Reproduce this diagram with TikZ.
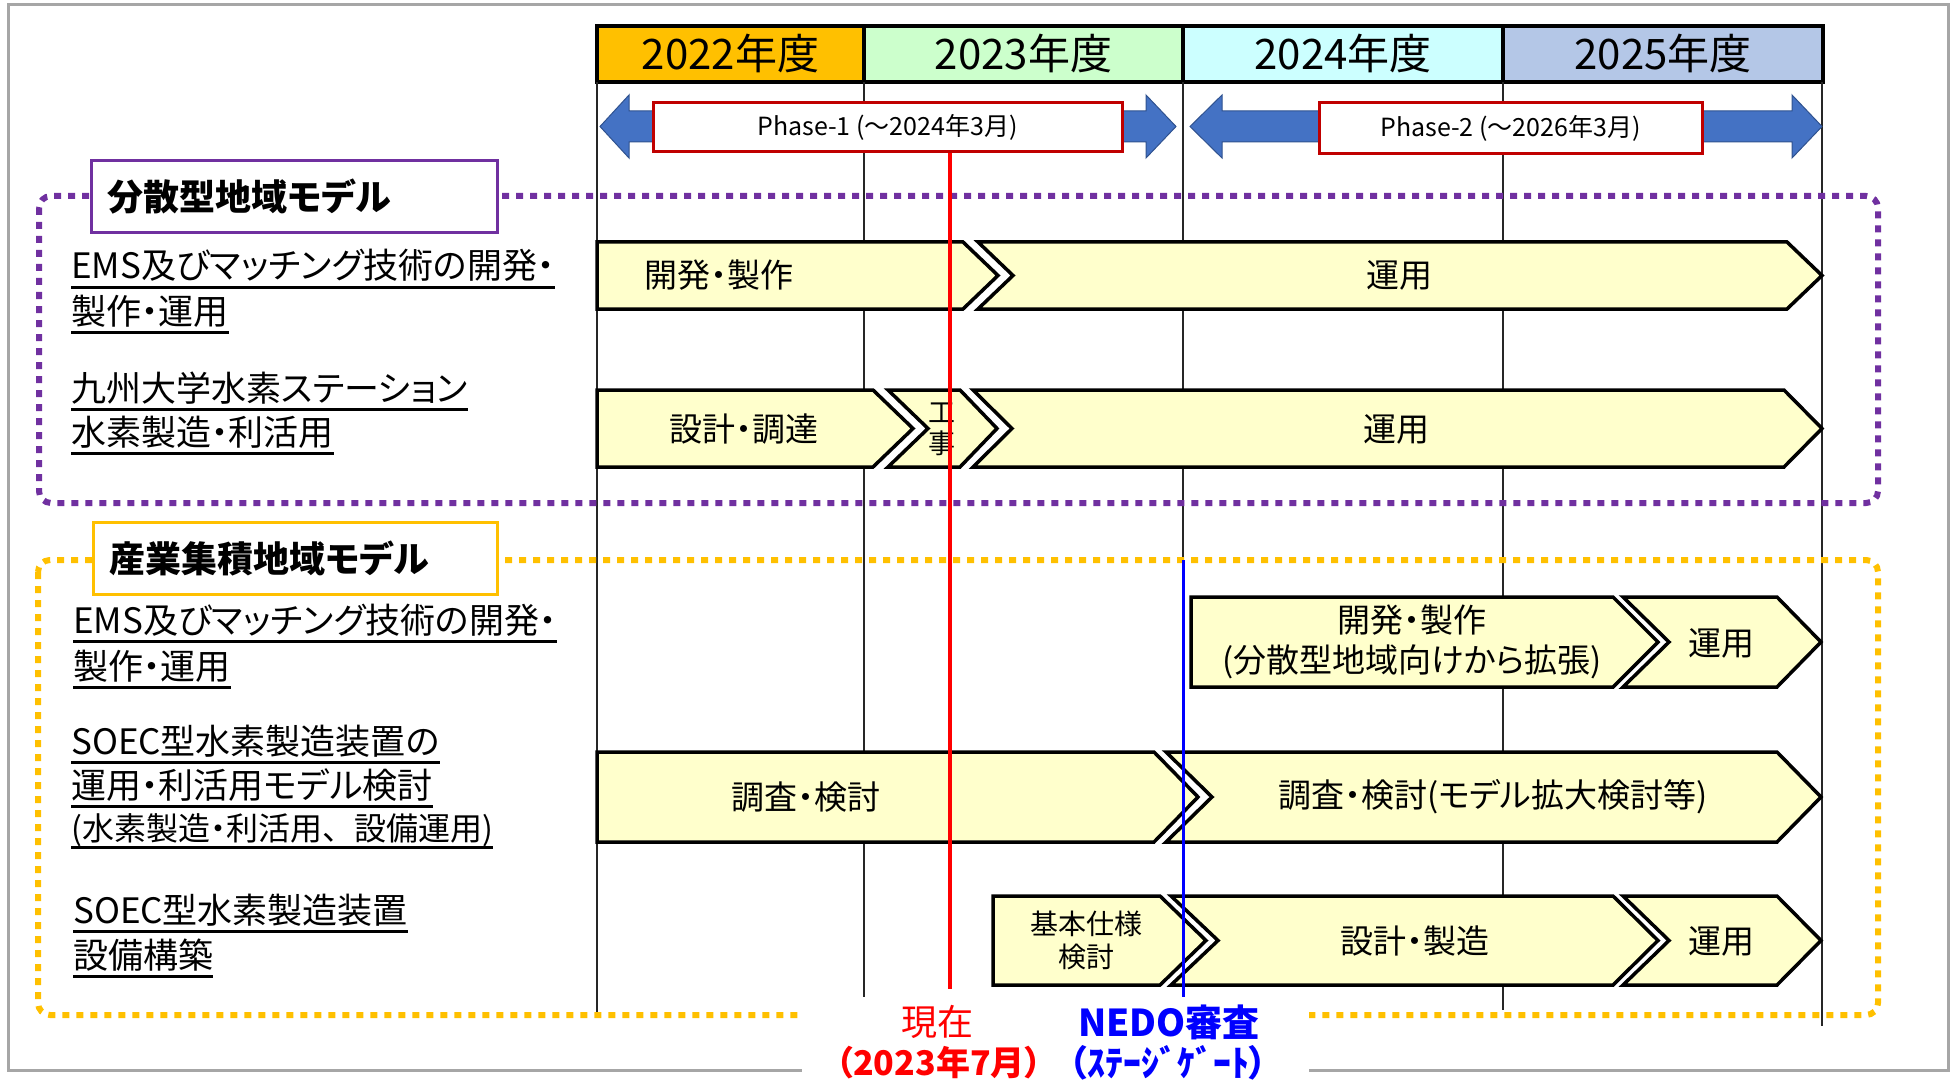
\documentclass[tikz,border=0pt]{standalone}
\usepackage{fontspec}
\newfontfamily\jp[RawFeature=+palt]{Noto Sans CJK JP}
\newfontfamily\jpn{Noto Sans CJK JP}
\newcommand\setfs[1]{\fontsize{#1}{#1}\selectfont}
\definecolor{barfill}{HTML}{FFFFCC}
\definecolor{yA}{HTML}{FFC000}
\definecolor{yB}{HTML}{CCFFCC}
\definecolor{yC}{HTML}{CCFFFF}
\definecolor{yD}{HTML}{B4C7E7}
\definecolor{phaseblue}{HTML}{4472C4}
\definecolor{phaseedge}{HTML}{2F528F}
\definecolor{phasered}{HTML}{C00000}
\definecolor{purp}{HTML}{7030A0}
\definecolor{gold}{HTML}{FFC000}
\definecolor{greyframe}{HTML}{A6A6A6}
\newcommand\flatchev[5]{\draw[barst] (#1,#4) -- (#2,#4) -- (#3,{(#4+#5)/2}) -- (#2,#5) -- (#1,#5) -- cycle;}
\newcommand\notchchev[6]{\draw[barst] (#1,#5) -- (#3,#5) -- (#4,{(#5+#6)/2}) -- (#3,#6) -- (#1,#6) -- (#2,{(#5+#6)/2}) -- cycle;}
\newcommand\dblarrow[4]{\draw[phasearrow] (#1,126.5) -- (#2,95) -- (#2,111) -- (#3,111) -- (#3,95) -- (#4,126.5) -- (#3,158) -- (#3,142) -- (#2,142) -- (#2,158) -- cycle;}
\tikzset{
  cell/.style={draw=black, line width=3.5},
  gridline/.style={draw=black!85, line width=2},
  barst/.style={draw=black, line width=3.5, fill=barfill, line join=miter},
  bartext/.style={inner sep=0, align=center, font=\jp\setfs{33}},
  headtext/.style={inner sep=0, font=\jp\setfs{42}},
  phasearrow/.style={fill=phaseblue, draw=phaseedge, line width=1},
  phasebox/.style={draw=phasered, line width=3, fill=white, inner sep=0, font=\jpn\setfs{25}},
  dotframe/.style={line width=6, dash pattern=on 7 off 7, rounded corners=12},
  labbox/.style={line width=3, fill=white, inner xsep=16, inner ysep=0, minimum height=72, anchor=north west, font=\jp\bfseries\setfs{36}},
  rowlab/.style={anchor=base west, inner sep=0, font=\jp\setfs{35}},
  uline/.style={line width=2.4},
  nowline/.style={draw=red, line width=4.5},
  gateline/.style={draw=blue, line width=3},
}
\begin{document}
\begin{tikzpicture}[x=1pt, y=-1pt]
\useasboundingbox (0,0) rectangle (1951,1083);
% outer grey frame
\draw[greyframe, line width=3] (8,5) rectangle (1948,1070);
% header
\draw[cell, fill=yA] (597,26) rectangle (864,82);
\draw[cell, fill=yB] (864,26) rectangle (1183,82);
\draw[cell, fill=yC] (1183,26) rectangle (1503,82);
\draw[cell, fill=yD] (1503,26) rectangle (1823,82);
\node[headtext] (h22) at (730.5,54) {2022年度};
\node[headtext] (h23) at (1023.5,54) {2023年度};
\node[headtext] (h24) at (1343,54) {2024年度};
\node[headtext] (h25) at (1663,54) {2025年度};
% grid lines
\draw[gridline] (597,82) -- (597,1012);
\draw[gridline] (864,82) -- (864,997);
\draw[gridline] (1183,82) -- (1183,997);
\draw[gridline] (1503,82) -- (1503,1010);
\draw[gridline] (1822,82) -- (1822,1026);
% phase arrows
\dblarrow{600}{629}{1146}{1176}
\dblarrow{1190}{1222}{1792}{1822}
\node[phasebox, minimum width=469, minimum height=49] (p1) at (887.5,127.5) {Phase-1 (～2024年3月)};
\node[phasebox, minimum width=383, minimum height=51] (p2) at (1510.5,128.5) {Phase-2 (～2026年3月)};
% dotted frames
\draw[dotframe, draw=purp] (39,196) rectangle (1878,503);
\draw[dotframe, draw=gold] (38,560) rectangle (1878,1015);
\node[labbox, draw=purp] (g1) at (90,159) {\makebox[374pt][l]{分散型地域モデル}};
\node[labbox, draw=gold] (g2) at (92,521) {\makebox[372pt][l]{産業集積地域モデル}};
% bars row 1
\flatchev{597}{963}{998}{242}{309}
\notchchev{978}{1013}{1787}{1822}{242}{309}
% row 2
\flatchev{597}{873}{913}{390}{467}
\notchchev{888}{928}{960}{997}{390}{467}
\notchchev{973}{1012}{1784}{1822}{390}{467}
% row 3
\flatchev{1191}{1613}{1658}{597}{687}
\notchchev{1623}{1669}{1777}{1821}{597}{687}
% row 4
\flatchev{597}{1154}{1198}{752}{842}
\notchchev{1166}{1212}{1777}{1821}{752}{842}
% row 5
\flatchev{993}{1160}{1206}{896}{985}
\notchchev{1171}{1218}{1613}{1658}{896}{985}
\notchchev{1623}{1669}{1777}{1821}{896}{985}
% bar texts
\node[bartext] (b11) at (719,275) {開発・製作};
\node[bartext] (b12) at (1399,275) {運用};
\node[bartext] (b21) at (744,429) {設計・調達};
\node[bartext, font=\jp\fontsize{27}{31}\selectfont] (b22) at (942,429) {工\\事};
\node[bartext] (b23) at (1396,429) {運用};
\node[bartext, font=\jp\fontsize{33}{40}\selectfont] (b31) at (1412,642) {開発・製作\\(分散型地域向けから拡張)};
\node[bartext] (b32) at (1721,643) {運用};
\node[bartext] (b41) at (806,797) {調査・検討};
\node[bartext] (b42) at (1493,797) {調査・検討(モデル拡大検討等)};
\node[bartext, font=\jp\fontsize{28}{33}\selectfont] (b51) at (1086,940) {基本仕様\\検討};
\node[bartext] (b52) at (1415,941) {設計・製造};
\node[bartext] (b53) at (1721,941) {運用};
% now / gate lines
\coordinate (now) at (950,989);
\draw[nowline] (p1.south -| now) -- (now);
\coordinate (gatetop) at (1183,560);
\coordinate (gatebot) at (1183,997);
\draw[gateline] (gatetop) -- (gatebot);
% white patch at bottom
\fill[white] (802,1003) rectangle (1309,1083);
\node[inner sep=0, text=red, font=\jp\setfs{36}] (now1) at (937,1022) {現在};
\node[inner sep=0, text=red, font=\jp\bfseries\setfs{34}] (now2) at (939,1063) {（2023年7月）};
\node[inner sep=0, text=blue, font=\jp\bfseries\setfs{37}] (gate1) at (1169,1022) {NEDO審査};
\node[inner sep=0, text=blue, font=\jp\bfseries\setfs{36}] (gate2) at (1168,1063) {（ｽﾃｰｼﾞｹﾞｰﾄ）};
% row labels
\node[rowlab] (l1a) at (71,279) {EMS及びマッチング技術の開発・};
\node[rowlab] (l1b) at (71,324) {製作・運用};
\node[rowlab] (l2a) at (71,401) {九州大学水素ステーション};
\node[rowlab] (l2b) at (71,445) {水素製造・利活用};
\node[rowlab] (l3a) at (73,633) {EMS及びマッチング技術の開発・};
\node[rowlab] (l3b) at (73,679) {製作・運用};
\node[rowlab] (l4a) at (71,754) {SOEC型水素製造装置の};
\node[rowlab] (l4b) at (71,798) {運用・利活用モデル検討};
\node[rowlab, font=\jp\setfs{32}] (l4c) at (71,840) {(水素製造・利活用{\jpn 、}設備運用)};
\node[rowlab] (l5a) at (73,923) {SOEC型水素製造装置};
\node[rowlab] (l5b) at (73,968) {設備構築};
\foreach \n in {l1a,l1b,l2a,l2b,l3a,l3b,l4a,l4b,l5a,l5b}
  \draw[uline] ([yshift=-8.5pt]\n.base west) -- ([yshift=-8.5pt]\n.base east);
\draw[uline] ([yshift=-7.5pt]l4c.base west) -- ([yshift=-7.5pt]l4c.base east);
\end{tikzpicture}
\end{document}
